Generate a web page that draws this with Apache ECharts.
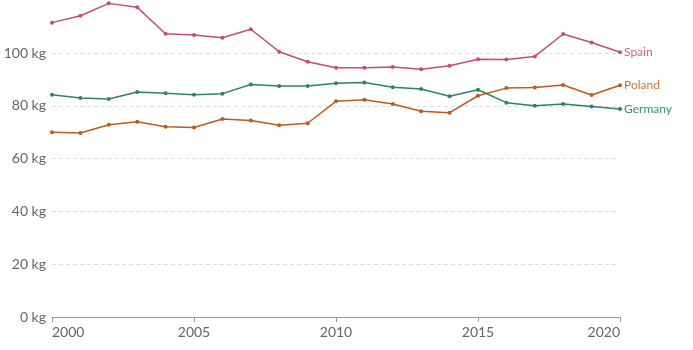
<!DOCTYPE html>
<html><head><meta charset="utf-8">
<script src="https://cdn.jsdelivr.net/npm/echarts@6/dist/echarts.min.js"></script>
<style>html,body{margin:0;padding:0;background:#fff}#c{width:693px;height:350px}</style>
</head><body><div id="c"></div>
<script>
const years = [2000,2001,2002,2003,2004,2005,2006,2007,2008,2009,2010,2011,2012,2013,2014,2015,2016,2017,2018,2019,2020];
const spain = [111.5,114.1,118.8,117.3,107.3,106.8,105.8,109.0,100.5,96.7,94.4,94.4,94.7,93.8,95.2,97.6,97.5,98.7,107.2,104.0,100.3];
const poland = [70.0,69.7,72.8,74.0,72.1,71.8,75.0,74.4,72.6,73.4,81.7,82.3,80.7,77.9,77.4,83.8,86.7,86.9,87.9,84.1,87.8];
const germany = [84.2,82.95,82.6,85.2,84.8,84.2,84.6,88.1,87.5,87.5,88.5,88.8,87.0,86.4,83.6,86.1,81.2,80.0,80.7,79.7,78.8];
const yTicks = [0,20,40,60,80,100];

const names = ['Spain','Poland','Germany'];
const colors = ['#c54f66','#c05a1a','#2a8563'];
const labelColors = ['#cf6078','#cf7535','#389070'];
const datas = [spain, poland, germany];

const chart = echarts.init(document.getElementById('c'));
chart.setOption({
  animation:false,
  textStyle:{fontFamily:'Lato'},
  grid:{left:52,right:73,top:53,bottom:33},
  xAxis:{type:'value',min:2000,max:2020,interval:5,
    axisLine:{show:true,lineStyle:{color:'#999'}},
    axisTick:{show:true,length:5,lineStyle:{color:'#999'}},
    splitLine:{show:false},
    axisLabel:{color:'#666',fontSize:14,margin:8,alignMinLabel:'left',alignMaxLabel:'right',formatter:v=>String(v)}
  },
  yAxis:{type:'value',min:yTicks[0],max:yTicks[yTicks.length-1],interval:20,
    axisLine:{show:false},axisTick:{show:false},
    splitLine:{lineStyle:{color:'#ddd',type:[4,3]}},
    axisLabel:{color:'#666',fontSize:14,margin:6,formatter:v=>v+' kg'}
  },
  series: names.map((n,i)=>({
    name:n,type:'line',clip:false,
    data: years.map((y,j)=>[y,datas[i][j]]),
    symbol:'circle',symbolSize:4,
    lineStyle:{width:1.5,color:colors[i]},
    itemStyle:{color:colors[i]},
    endLabel:{show:true,formatter:n,color:labelColors[i],fontSize:12,distance:4,fontFamily:'Lato'}
  }))
});
</script></body></html>
